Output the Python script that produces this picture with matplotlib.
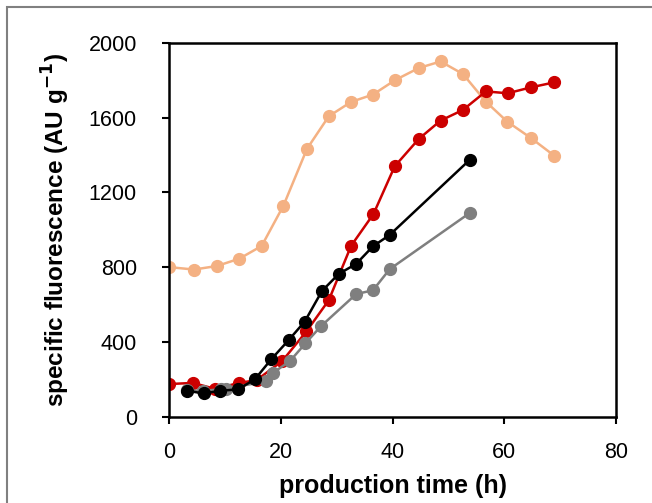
import matplotlib.pyplot as plt
from matplotlib.patches import Rectangle

plt.rcParams['font.family'] = ['Liberation Sans', 'DejaVu Sans']

# production time (h) and specific fluorescence (AU g-1) per culture
t_peach = [0, 4.5, 8.6, 12.6, 16.6, 20.5, 24.7, 28.6, 32.6, 36.5, 40.5, 44.7, 48.6, 52.6, 56.7, 60.5, 64.8, 68.9]
f_peach = [801, 788, 807, 846, 914, 1130, 1433, 1607, 1684, 1723, 1801, 1865, 1900, 1833, 1685, 1579, 1490, 1397]

t_red = [0, 4.3, 8.3, 12.5, 15.7, 20.3, 24.6, 28.6, 32.6, 36.6, 40.4, 44.7, 48.6, 52.6, 56.7, 60.6, 64.8, 68.9]
f_red = [176, 182, 150, 182, 197, 300, 457, 624, 915, 1085, 1340, 1486, 1584, 1641, 1740, 1730, 1762, 1788]

t_black = [3.3, 6.2, 9.2, 12.4, 15.4, 18.3, 21.4, 24.3, 27.4, 30.4, 33.5, 36.5, 39.5, 53.8]
f_black = [140, 126, 140, 148, 202, 308, 410, 510, 674, 765, 818, 912, 973, 1374]

t_gray = [3.2, 6.1, 9.3, 10.3, 17.3, 18.6, 21.7, 24.4, 27.2, 33.5, 36.5, 39.5, 53.8]
f_gray = [142, 140, 148, 152, 190, 235, 300, 393, 485, 657, 677, 790, 1090]

fig = plt.figure(figsize=(6.52, 5.03), dpi=100)
ax = fig.add_axes([0.259, 0.171, 0.686, 0.744])

# thin grey frame around the panel
fig.patches.append(Rectangle((7 / 652, -0.2), 1.2, 1.2 - 7 / 503,
                             transform=fig.transFigure, fill=False,
                             edgecolor='#808080', linewidth=1.5))

ms = 8.5
lw = 1.8
ax.plot(t_peach, f_peach, '-o', color='#F4B183', ms=ms, lw=lw)
ax.plot(t_red, f_red, '-o', color='#CC0000', ms=ms, lw=lw)
ax.plot(t_gray, f_gray, '-o', color='#7F7F7F', ms=ms, lw=lw)
ax.plot(t_black, f_black, '-o', color='black', ms=ms, lw=lw)

ax.set_xlim(0, 80)
ax.set_ylim(0, 2000)
ax.set_xticks([0, 20, 40, 60, 80])
ax.set_yticks([0, 400, 800, 1200, 1600, 2000])
ax.tick_params(direction='out', length=5, width=1.5, labelsize=15.5)
ax.tick_params(axis='y', pad=18)
ax.tick_params(axis='x', pad=13)
for s in ax.spines.values():
    s.set_linewidth(1.8)

ax.set_xlabel('production time (h)', fontsize=18, fontweight='bold', labelpad=8)
ax.set_ylabel('specific fluorescence (AU g$^{\\mathbf{-1}}$)', fontsize=17.5,
              fontweight='bold', labelpad=12)

fig.savefig('out.png', dpi=100)
